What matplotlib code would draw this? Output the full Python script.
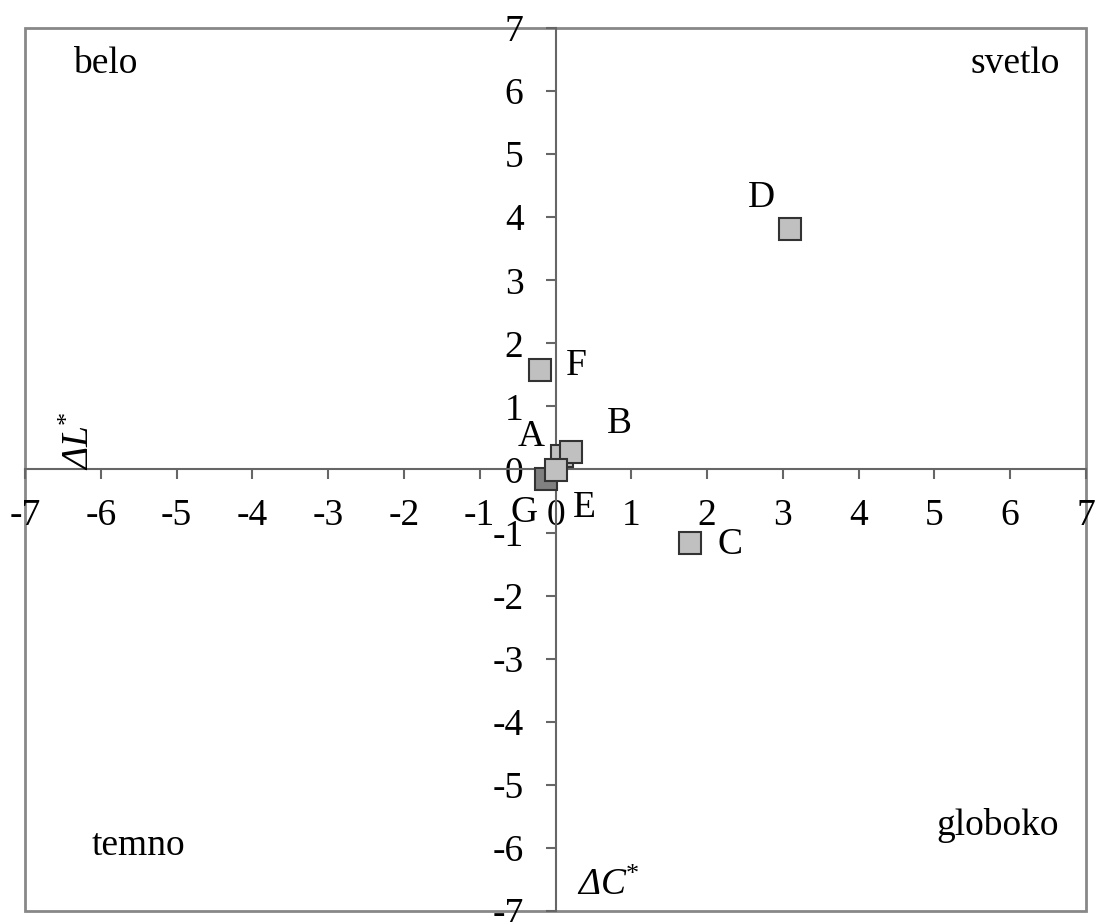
import matplotlib
matplotlib.use('Agg')
import matplotlib.pyplot as plt
from matplotlib.patches import Rectangle

plt.rcParams['font.family'] = ['Liberation Serif', 'DejaVu Serif']
plt.rcParams['mathtext.fontset'] = 'custom'
plt.rcParams['mathtext.rm'] = 'Liberation Serif'
plt.rcParams['mathtext.it'] = 'Liberation Serif:italic'

# samples, delta C* (x) and delta L* (y)
labels = ['D', 'F', 'C', 'G', 'A', 'B', 'E']
dc = [3.09, -0.20, 1.77, -0.12, 0.08, 0.21, 0.00]
dl = [3.81, 1.58, -1.16, -0.15, 0.21, 0.27, -0.01]

ticks = list(range(-7, 8))

# quadrant names
quad_names = ['belo', 'svetlo', 'temno', 'globoko']
quad_pos = [(-5.94, 6.28), (6.07, 6.28), (-5.50, -6.11), (5.83, -5.79)]

# label offsets in pixels
offsets = {'D': (-28, 31), 'F': (36, 4), 'C': (40, -2), 'B': (48, 29),
           'A': (-30, 20), 'E': (29, -38), 'G': (-22, -34)}

fig = plt.figure(figsize=(10.96, 9.22), dpi=100)
ax = fig.add_axes([25 / 1096, 1 - 911 / 922, (1086 - 25) / 1096, (911 - 28) / 922])

for i, lab in enumerate(labels):
    face = '#808080' if lab == 'G' else '#c0c0c0'
    ax.plot(dc[i], dl[i], 's', ms=15.5, mfc=face, mec='#333333', mew=1.5, zorder=3 + i)
    ax.annotate(lab, (dc[i], dl[i]), xytext=offsets[lab], textcoords='offset pixels',
                ha='center', va='center', fontsize=27)

for name, (x, y) in zip(quad_names, quad_pos):
    ax.text(x, y, name, ha='center', va='baseline', fontsize=27)

ax.text(0.69, -6.6, r'ΔC$^{*}$', ha='center', va='center', fontsize=27, style='italic')
ax.text(-6.28, 0.0, r'ΔL$^{*}$', ha='center', va='bottom', rotation=90, fontsize=27,
        style='italic')

ax.set_xlim(-7, 7)
ax.set_ylim(-7, 7)
ax.set_xticks(ticks)
ax.set_yticks(ticks)
ax.set_xticklabels([str(t) for t in ticks])
ax.set_yticklabels([str(t) for t in ticks])

ax.spines['left'].set_position(('data', 0))
ax.spines['bottom'].set_position(('data', 0))
ax.spines['top'].set_visible(False)
ax.spines['right'].set_visible(False)
for s in ['left', 'bottom']:
    ax.spines[s].set_color('#666666')
    ax.spines[s].set_linewidth(1.5)
ax.tick_params(direction='out', length=7, width=1.5, color='#666666', labelsize=27)
ax.tick_params(axis='x', pad=14)
ax.tick_params(axis='y', pad=16)

ax.add_patch(Rectangle((0, 0), 1, 1, transform=ax.transAxes, fill=False,
                       edgecolor='#888888', linewidth=2, clip_on=False, zorder=0))

fig.savefig('out.png', dpi=100)
